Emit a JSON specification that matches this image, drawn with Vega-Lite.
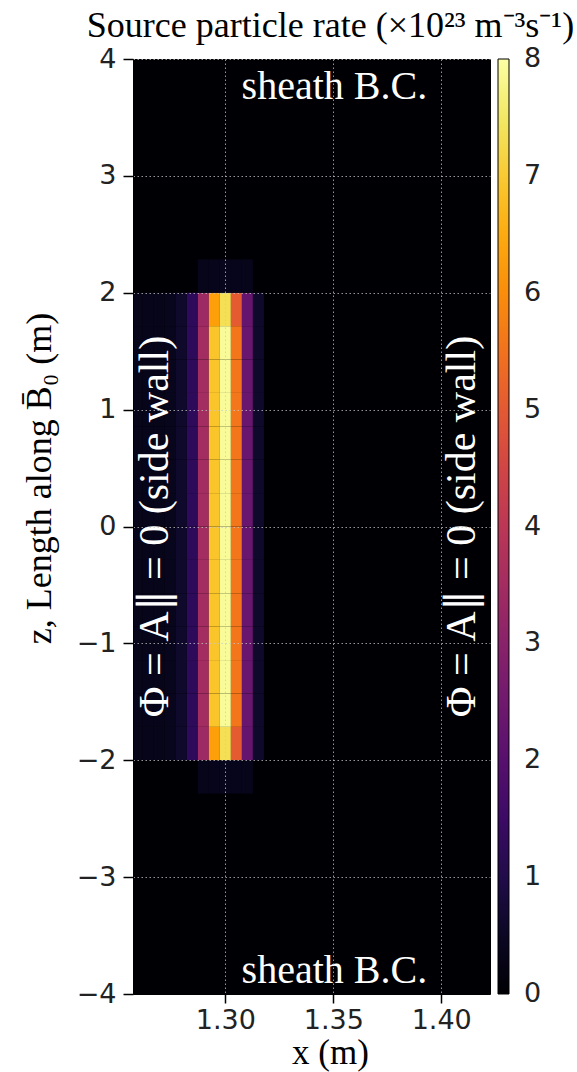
{
  "$schema": "https://vega.github.io/schema/vega-lite/v6.json",
  "width": 357,
  "height": 935,
  "autosize": "none",
  "padding": {"left": 133, "top": 59, "right": 87, "bottom": 78},
  "background": "white",
  "config": {
    "view": {"stroke": "black", "strokeWidth": 1, "fill": "#000004"}
  },
  "resolve": {"axis": {"x": "independent"}},
  "datasets": {
    "cells": [
      {"x0":1.25665,"x1":1.26175,"z0":-2,"z1":-1.7143,"v":0.35},
      {"x0":1.25665,"x1":1.26175,"z0":-1.7143,"z1":-1.4286,"v":0.35},
      {"x0":1.25665,"x1":1.26175,"z0":-1.4286,"z1":-1.1429,"v":0.35},
      {"x0":1.25665,"x1":1.26175,"z0":-1.1429,"z1":-0.8571,"v":0.35},
      {"x0":1.25665,"x1":1.26175,"z0":-0.8571,"z1":-0.5714,"v":0.35},
      {"x0":1.25665,"x1":1.26175,"z0":-0.5714,"z1":-0.2857,"v":0.35},
      {"x0":1.25665,"x1":1.26175,"z0":-0.2857,"z1":0,"v":0.35},
      {"x0":1.25665,"x1":1.26175,"z0":0,"z1":0.2857,"v":0.35},
      {"x0":1.25665,"x1":1.26175,"z0":0.2857,"z1":0.5714,"v":0.35},
      {"x0":1.25665,"x1":1.26175,"z0":0.5714,"z1":0.8571,"v":0.35},
      {"x0":1.25665,"x1":1.26175,"z0":0.8571,"z1":1.1429,"v":0.35},
      {"x0":1.25665,"x1":1.26175,"z0":1.1429,"z1":1.4286,"v":0.35},
      {"x0":1.25665,"x1":1.26175,"z0":1.4286,"z1":1.7143,"v":0.35},
      {"x0":1.25665,"x1":1.26175,"z0":1.7143,"z1":2,"v":0.35},

      {"x0":1.26175,"x1":1.26685,"z0":-2,"z1":-1.7143,"v":0.35},
      {"x0":1.26175,"x1":1.26685,"z0":-1.7143,"z1":-1.4286,"v":0.35},
      {"x0":1.26175,"x1":1.26685,"z0":-1.4286,"z1":-1.1429,"v":0.35},
      {"x0":1.26175,"x1":1.26685,"z0":-1.1429,"z1":-0.8571,"v":0.35},
      {"x0":1.26175,"x1":1.26685,"z0":-0.8571,"z1":-0.5714,"v":0.35},
      {"x0":1.26175,"x1":1.26685,"z0":-0.5714,"z1":-0.2857,"v":0.35},
      {"x0":1.26175,"x1":1.26685,"z0":-0.2857,"z1":0,"v":0.35},
      {"x0":1.26175,"x1":1.26685,"z0":0,"z1":0.2857,"v":0.35},
      {"x0":1.26175,"x1":1.26685,"z0":0.2857,"z1":0.5714,"v":0.35},
      {"x0":1.26175,"x1":1.26685,"z0":0.5714,"z1":0.8571,"v":0.35},
      {"x0":1.26175,"x1":1.26685,"z0":0.8571,"z1":1.1429,"v":0.35},
      {"x0":1.26175,"x1":1.26685,"z0":1.1429,"z1":1.4286,"v":0.35},
      {"x0":1.26175,"x1":1.26685,"z0":1.4286,"z1":1.7143,"v":0.35},
      {"x0":1.26175,"x1":1.26685,"z0":1.7143,"z1":2,"v":0.35},

      {"x0":1.26685,"x1":1.27195,"z0":-2,"z1":-1.7143,"v":0.35},
      {"x0":1.26685,"x1":1.27195,"z0":-1.7143,"z1":-1.4286,"v":0.35},
      {"x0":1.26685,"x1":1.27195,"z0":-1.4286,"z1":-1.1429,"v":0.35},
      {"x0":1.26685,"x1":1.27195,"z0":-1.1429,"z1":-0.8571,"v":0.35},
      {"x0":1.26685,"x1":1.27195,"z0":-0.8571,"z1":-0.5714,"v":0.35},
      {"x0":1.26685,"x1":1.27195,"z0":-0.5714,"z1":-0.2857,"v":0.35},
      {"x0":1.26685,"x1":1.27195,"z0":-0.2857,"z1":0,"v":0.35},
      {"x0":1.26685,"x1":1.27195,"z0":0,"z1":0.2857,"v":0.35},
      {"x0":1.26685,"x1":1.27195,"z0":0.2857,"z1":0.5714,"v":0.35},
      {"x0":1.26685,"x1":1.27195,"z0":0.5714,"z1":0.8571,"v":0.35},
      {"x0":1.26685,"x1":1.27195,"z0":0.8571,"z1":1.1429,"v":0.35},
      {"x0":1.26685,"x1":1.27195,"z0":1.1429,"z1":1.4286,"v":0.35},
      {"x0":1.26685,"x1":1.27195,"z0":1.4286,"z1":1.7143,"v":0.35},
      {"x0":1.26685,"x1":1.27195,"z0":1.7143,"z1":2,"v":0.35},

      {"x0":1.27195,"x1":1.27705,"z0":-2,"z1":-1.7143,"v":0.4},
      {"x0":1.27195,"x1":1.27705,"z0":-1.7143,"z1":-1.4286,"v":0.4},
      {"x0":1.27195,"x1":1.27705,"z0":-1.4286,"z1":-1.1429,"v":0.4},
      {"x0":1.27195,"x1":1.27705,"z0":-1.1429,"z1":-0.8571,"v":0.4},
      {"x0":1.27195,"x1":1.27705,"z0":-0.8571,"z1":-0.5714,"v":0.4},
      {"x0":1.27195,"x1":1.27705,"z0":-0.5714,"z1":-0.2857,"v":0.4},
      {"x0":1.27195,"x1":1.27705,"z0":-0.2857,"z1":0,"v":0.4},
      {"x0":1.27195,"x1":1.27705,"z0":0,"z1":0.2857,"v":0.4},
      {"x0":1.27195,"x1":1.27705,"z0":0.2857,"z1":0.5714,"v":0.4},
      {"x0":1.27195,"x1":1.27705,"z0":0.5714,"z1":0.8571,"v":0.4},
      {"x0":1.27195,"x1":1.27705,"z0":0.8571,"z1":1.1429,"v":0.4},
      {"x0":1.27195,"x1":1.27705,"z0":1.1429,"z1":1.4286,"v":0.4},
      {"x0":1.27195,"x1":1.27705,"z0":1.4286,"z1":1.7143,"v":0.4},
      {"x0":1.27195,"x1":1.27705,"z0":1.7143,"z1":2,"v":0.4},

      {"x0":1.27705,"x1":1.28215,"z0":-2,"z1":-1.7143,"v":0.6},
      {"x0":1.27705,"x1":1.28215,"z0":-1.7143,"z1":-1.4286,"v":0.6},
      {"x0":1.27705,"x1":1.28215,"z0":-1.4286,"z1":-1.1429,"v":0.6},
      {"x0":1.27705,"x1":1.28215,"z0":-1.1429,"z1":-0.8571,"v":0.6},
      {"x0":1.27705,"x1":1.28215,"z0":-0.8571,"z1":-0.5714,"v":0.6},
      {"x0":1.27705,"x1":1.28215,"z0":-0.5714,"z1":-0.2857,"v":0.6},
      {"x0":1.27705,"x1":1.28215,"z0":-0.2857,"z1":0,"v":0.6},
      {"x0":1.27705,"x1":1.28215,"z0":0,"z1":0.2857,"v":0.6},
      {"x0":1.27705,"x1":1.28215,"z0":0.2857,"z1":0.5714,"v":0.6},
      {"x0":1.27705,"x1":1.28215,"z0":0.5714,"z1":0.8571,"v":0.6},
      {"x0":1.27705,"x1":1.28215,"z0":0.8571,"z1":1.1429,"v":0.6},
      {"x0":1.27705,"x1":1.28215,"z0":1.1429,"z1":1.4286,"v":0.6},
      {"x0":1.27705,"x1":1.28215,"z0":1.4286,"z1":1.7143,"v":0.6},
      {"x0":1.27705,"x1":1.28215,"z0":1.7143,"z1":2,"v":0.6},

      {"x0":1.28215,"x1":1.28725,"z0":-2,"z1":-1.7143,"v":1.25},
      {"x0":1.28215,"x1":1.28725,"z0":-1.7143,"z1":-1.4286,"v":1.25},
      {"x0":1.28215,"x1":1.28725,"z0":-1.4286,"z1":-1.1429,"v":1.25},
      {"x0":1.28215,"x1":1.28725,"z0":-1.1429,"z1":-0.8571,"v":1.25},
      {"x0":1.28215,"x1":1.28725,"z0":-0.8571,"z1":-0.5714,"v":1.25},
      {"x0":1.28215,"x1":1.28725,"z0":-0.5714,"z1":-0.2857,"v":1.25},
      {"x0":1.28215,"x1":1.28725,"z0":-0.2857,"z1":0,"v":1.25},
      {"x0":1.28215,"x1":1.28725,"z0":0,"z1":0.2857,"v":1.25},
      {"x0":1.28215,"x1":1.28725,"z0":0.2857,"z1":0.5714,"v":1.25},
      {"x0":1.28215,"x1":1.28725,"z0":0.5714,"z1":0.8571,"v":1.25},
      {"x0":1.28215,"x1":1.28725,"z0":0.8571,"z1":1.1429,"v":1.25},
      {"x0":1.28215,"x1":1.28725,"z0":1.1429,"z1":1.4286,"v":1.25},
      {"x0":1.28215,"x1":1.28725,"z0":1.4286,"z1":1.7143,"v":1.25},
      {"x0":1.28215,"x1":1.28725,"z0":1.7143,"z1":2,"v":1.25},

      {"x0":1.28725,"x1":1.29235,"z0":-2,"z1":-1.7143,"v":3.4},
      {"x0":1.28725,"x1":1.29235,"z0":-1.7143,"z1":-1.4286,"v":3.5},
      {"x0":1.28725,"x1":1.29235,"z0":-1.4286,"z1":-1.1429,"v":3.5},
      {"x0":1.28725,"x1":1.29235,"z0":-1.1429,"z1":-0.8571,"v":3.5},
      {"x0":1.28725,"x1":1.29235,"z0":-0.8571,"z1":-0.5714,"v":3.5},
      {"x0":1.28725,"x1":1.29235,"z0":-0.5714,"z1":-0.2857,"v":3.5},
      {"x0":1.28725,"x1":1.29235,"z0":-0.2857,"z1":0,"v":3.5},
      {"x0":1.28725,"x1":1.29235,"z0":0,"z1":0.2857,"v":3.5},
      {"x0":1.28725,"x1":1.29235,"z0":0.2857,"z1":0.5714,"v":3.5},
      {"x0":1.28725,"x1":1.29235,"z0":0.5714,"z1":0.8571,"v":3.5},
      {"x0":1.28725,"x1":1.29235,"z0":0.8571,"z1":1.1429,"v":3.5},
      {"x0":1.28725,"x1":1.29235,"z0":1.1429,"z1":1.4286,"v":3.5},
      {"x0":1.28725,"x1":1.29235,"z0":1.4286,"z1":1.7143,"v":3.5},
      {"x0":1.28725,"x1":1.29235,"z0":1.7143,"z1":2,"v":3.4},

      {"x0":1.29235,"x1":1.29745,"z0":-2,"z1":-1.7143,"v":6.3},
      {"x0":1.29235,"x1":1.29745,"z0":-1.7143,"z1":-1.4286,"v":6.9},
      {"x0":1.29235,"x1":1.29745,"z0":-1.4286,"z1":-1.1429,"v":6.9},
      {"x0":1.29235,"x1":1.29745,"z0":-1.1429,"z1":-0.8571,"v":6.9},
      {"x0":1.29235,"x1":1.29745,"z0":-0.8571,"z1":-0.5714,"v":6.9},
      {"x0":1.29235,"x1":1.29745,"z0":-0.5714,"z1":-0.2857,"v":6.9},
      {"x0":1.29235,"x1":1.29745,"z0":-0.2857,"z1":0,"v":6.9},
      {"x0":1.29235,"x1":1.29745,"z0":0,"z1":0.2857,"v":6.9},
      {"x0":1.29235,"x1":1.29745,"z0":0.2857,"z1":0.5714,"v":6.9},
      {"x0":1.29235,"x1":1.29745,"z0":0.5714,"z1":0.8571,"v":6.9},
      {"x0":1.29235,"x1":1.29745,"z0":0.8571,"z1":1.1429,"v":6.9},
      {"x0":1.29235,"x1":1.29745,"z0":1.1429,"z1":1.4286,"v":6.9},
      {"x0":1.29235,"x1":1.29745,"z0":1.4286,"z1":1.7143,"v":6.9},
      {"x0":1.29235,"x1":1.29745,"z0":1.7143,"z1":2,"v":6.3},

      {"x0":1.29745,"x1":1.30255,"z0":-2,"z1":-1.7143,"v":7.35},
      {"x0":1.29745,"x1":1.30255,"z0":-1.7143,"z1":-1.4286,"v":7.9},
      {"x0":1.29745,"x1":1.30255,"z0":-1.4286,"z1":-1.1429,"v":7.9},
      {"x0":1.29745,"x1":1.30255,"z0":-1.1429,"z1":-0.8571,"v":7.9},
      {"x0":1.29745,"x1":1.30255,"z0":-0.8571,"z1":-0.5714,"v":7.9},
      {"x0":1.29745,"x1":1.30255,"z0":-0.5714,"z1":-0.2857,"v":7.9},
      {"x0":1.29745,"x1":1.30255,"z0":-0.2857,"z1":0,"v":7.9},
      {"x0":1.29745,"x1":1.30255,"z0":0,"z1":0.2857,"v":7.9},
      {"x0":1.29745,"x1":1.30255,"z0":0.2857,"z1":0.5714,"v":7.9},
      {"x0":1.29745,"x1":1.30255,"z0":0.5714,"z1":0.8571,"v":7.9},
      {"x0":1.29745,"x1":1.30255,"z0":0.8571,"z1":1.1429,"v":7.9},
      {"x0":1.29745,"x1":1.30255,"z0":1.1429,"z1":1.4286,"v":7.9},
      {"x0":1.29745,"x1":1.30255,"z0":1.4286,"z1":1.7143,"v":7.9},
      {"x0":1.29745,"x1":1.30255,"z0":1.7143,"z1":2,"v":7.35},

      {"x0":1.30255,"x1":1.30765,"z0":-2,"z1":-1.7143,"v":5.05},
      {"x0":1.30255,"x1":1.30765,"z0":-1.7143,"z1":-1.4286,"v":5.6},
      {"x0":1.30255,"x1":1.30765,"z0":-1.4286,"z1":-1.1429,"v":5.6},
      {"x0":1.30255,"x1":1.30765,"z0":-1.1429,"z1":-0.8571,"v":5.6},
      {"x0":1.30255,"x1":1.30765,"z0":-0.8571,"z1":-0.5714,"v":5.6},
      {"x0":1.30255,"x1":1.30765,"z0":-0.5714,"z1":-0.2857,"v":5.6},
      {"x0":1.30255,"x1":1.30765,"z0":-0.2857,"z1":0,"v":5.6},
      {"x0":1.30255,"x1":1.30765,"z0":0,"z1":0.2857,"v":5.6},
      {"x0":1.30255,"x1":1.30765,"z0":0.2857,"z1":0.5714,"v":5.6},
      {"x0":1.30255,"x1":1.30765,"z0":0.5714,"z1":0.8571,"v":5.6},
      {"x0":1.30255,"x1":1.30765,"z0":0.8571,"z1":1.1429,"v":5.6},
      {"x0":1.30255,"x1":1.30765,"z0":1.1429,"z1":1.4286,"v":5.6},
      {"x0":1.30255,"x1":1.30765,"z0":1.4286,"z1":1.7143,"v":5.6},
      {"x0":1.30255,"x1":1.30765,"z0":1.7143,"z1":2,"v":5.05},

      {"x0":1.30765,"x1":1.31275,"z0":-2,"z1":-1.7143,"v":2.3},
      {"x0":1.30765,"x1":1.31275,"z0":-1.7143,"z1":-1.4286,"v":2.35},
      {"x0":1.30765,"x1":1.31275,"z0":-1.4286,"z1":-1.1429,"v":2.35},
      {"x0":1.30765,"x1":1.31275,"z0":-1.1429,"z1":-0.8571,"v":2.35},
      {"x0":1.30765,"x1":1.31275,"z0":-0.8571,"z1":-0.5714,"v":2.35},
      {"x0":1.30765,"x1":1.31275,"z0":-0.5714,"z1":-0.2857,"v":2.35},
      {"x0":1.30765,"x1":1.31275,"z0":-0.2857,"z1":0,"v":2.35},
      {"x0":1.30765,"x1":1.31275,"z0":0,"z1":0.2857,"v":2.35},
      {"x0":1.30765,"x1":1.31275,"z0":0.2857,"z1":0.5714,"v":2.35},
      {"x0":1.30765,"x1":1.31275,"z0":0.5714,"z1":0.8571,"v":2.35},
      {"x0":1.30765,"x1":1.31275,"z0":0.8571,"z1":1.1429,"v":2.35},
      {"x0":1.30765,"x1":1.31275,"z0":1.1429,"z1":1.4286,"v":2.35},
      {"x0":1.30765,"x1":1.31275,"z0":1.4286,"z1":1.7143,"v":2.35},
      {"x0":1.30765,"x1":1.31275,"z0":1.7143,"z1":2,"v":2.3},

      {"x0":1.31275,"x1":1.31785,"z0":-2,"z1":-1.7143,"v":0.6},
      {"x0":1.31275,"x1":1.31785,"z0":-1.7143,"z1":-1.4286,"v":0.6},
      {"x0":1.31275,"x1":1.31785,"z0":-1.4286,"z1":-1.1429,"v":0.6},
      {"x0":1.31275,"x1":1.31785,"z0":-1.1429,"z1":-0.8571,"v":0.6},
      {"x0":1.31275,"x1":1.31785,"z0":-0.8571,"z1":-0.5714,"v":0.6},
      {"x0":1.31275,"x1":1.31785,"z0":-0.5714,"z1":-0.2857,"v":0.6},
      {"x0":1.31275,"x1":1.31785,"z0":-0.2857,"z1":0,"v":0.6},
      {"x0":1.31275,"x1":1.31785,"z0":0,"z1":0.2857,"v":0.6},
      {"x0":1.31275,"x1":1.31785,"z0":0.2857,"z1":0.5714,"v":0.6},
      {"x0":1.31275,"x1":1.31785,"z0":0.5714,"z1":0.8571,"v":0.6},
      {"x0":1.31275,"x1":1.31785,"z0":0.8571,"z1":1.1429,"v":0.6},
      {"x0":1.31275,"x1":1.31785,"z0":1.1429,"z1":1.4286,"v":0.6},
      {"x0":1.31275,"x1":1.31785,"z0":1.4286,"z1":1.7143,"v":0.6},
      {"x0":1.31275,"x1":1.31785,"z0":1.7143,"z1":2,"v":0.6},

      {"x0":1.28725,"x1":1.29235,"z0":-2.2857,"z1":-2,"v":0.35},
      {"x0":1.29235,"x1":1.29745,"z0":-2.2857,"z1":-2,"v":0.38},
      {"x0":1.29745,"x1":1.30255,"z0":-2.2857,"z1":-2,"v":0.4},
      {"x0":1.30255,"x1":1.30765,"z0":-2.2857,"z1":-2,"v":0.38},
      {"x0":1.30765,"x1":1.31275,"z0":-2.2857,"z1":-2,"v":0.35},
      {"x0":1.28725,"x1":1.29235,"z0":2,"z1":2.2857,"v":0.35},
      {"x0":1.29235,"x1":1.29745,"z0":2,"z1":2.2857,"v":0.38},
      {"x0":1.29745,"x1":1.30255,"z0":2,"z1":2.2857,"v":0.4},
      {"x0":1.30255,"x1":1.30765,"z0":2,"z1":2.2857,"v":0.38},
      {"x0":1.30765,"x1":1.31275,"z0":2,"z1":2.2857,"v":0.35}
    ],
    "sheath": [
      {"t": "sheath B.C.", "x": 1.3505, "z": 3.66},
      {"t": "sheath B.C.", "x": 1.3505, "z": -3.902}
    ],
    "walls": [
      {"t": "Φ = A∥ = 0 (side wall)", "x": 1.2673, "z": 0.0},
      {"t": "Φ = A∥ = 0 (side wall)", "x": 1.4096, "z": 0.0}
    ]
  },
  "layer": [
    {
      "data": {"name": "cells"},
      "mark": {"type": "rect", "clip": true},
      "encoding": {
        "x": {
          "field": "x0", "type": "quantitative", "title": "x (m)",
          "scale": {"domain": [1.2572, 1.4226], "nice": false, "zero": false},
          "axis": {
            "values": [1.30, 1.35, 1.40], "format": ".2f",
            "labelFont": "DejaVu Sans", "labelFontSize": 27, "labelColor": "#222",
            "labelPadding": 4, "tickSize": 9, "tickWidth": 1.5, "tickColor": "black",
            "domainColor": "black", "zindex": 1,
            "grid": true, "gridColor": "#c8c8c8", "gridOpacity": 0.75, "gridDash": [1.5, 2.5], "gridWidth": 1,
            "titleFont": "Liberation Serif", "titleFontSize": 35, "titleFontWeight": "normal",
            "titleColor": "black", "titlePadding": 2, "titleX": 197
          }
        },
        "x2": {"field": "x1"},
        "y": {
          "field": "z0", "type": "quantitative", "title": "z, Length along B̄₀ (m)",
          "scale": {"domain": [-4, 4], "nice": false, "zero": false},
          "axis": {
            "values": [-4, -3, -2, -1, 0, 1, 2, 3, 4], "format": "d",
            "labelFont": "DejaVu Sans", "labelFontSize": 27, "labelColor": "#222",
            "labelPadding": 7, "tickSize": 10, "tickWidth": 1.5, "tickColor": "black",
            "domainColor": "black", "zindex": 1,
            "grid": true, "gridColor": "#c8c8c8", "gridOpacity": 0.75, "gridDash": [1.5, 2.5], "gridWidth": 1,
            "titleFont": "Liberation Serif", "titleFontSize": 36, "titleFontWeight": "normal",
            "titleColor": "black", "titlePadding": 18, "titleY": 419
          }
        },
        "y2": {"field": "z1"},
        "color": {
          "field": "v", "type": "quantitative",
          "scale": {"scheme": "inferno", "domain": [0, 8]},
          "legend": {
            "type": "gradient",
            "title": null, "orient": "right", "offset": 8, "padding": 0,
            "direction": "vertical", "format": "d",
            "gradientLength": 935, "gradientThickness": 11,
            "gradientStrokeColor": "black", "gradientStrokeWidth": 1,
            "values": [0, 1, 2, 3, 4, 5, 6, 7, 8],
            "labelFont": "DejaVu Sans", "labelFontSize": 27, "labelColor": "#222",
            "labelOffset": 15, "labelBaseline": "middle", "labelOverlap": false,
            "encode": {"labels": {"update": {"baseline": {"value": "middle"}}}}
          }
        }
      }
    },
    {
      "data": {"name": "sheath"},
      "mark": {"type": "text", "font": "Liberation Serif", "fontSize": 40, "color": "white", "align": "center", "baseline": "alphabetic"},
      "encoding": {
        "x": {
          "field": "x", "type": "quantitative", "title": "Source particle rate (×10²³ m⁻³s⁻¹)",
          "scale": {"domain": [1.2572, 1.4226], "nice": false, "zero": false},
          "axis": {
            "orient": "top", "labels": false, "ticks": false, "domain": false, "grid": false,
            "titleFont": "Liberation Serif", "titleFontSize": 36, "titleFontWeight": "normal",
            "titleColor": "black", "titleBaseline": "alphabetic", "titlePadding": 23, "titleX": 197
          }
        },
        "y": {"field": "z", "type": "quantitative", "title": "z, Length along B̄₀ (m)", "scale": {"domain": [-4, 4], "nice": false, "zero": false}},
        "text": {"field": "t"}
      }
    },
    {
      "data": {"name": "walls"},
      "mark": {"type": "text", "font": "Liberation Serif", "fontSize": 42, "color": "white", "align": "center", "baseline": "middle", "angle": 270},
      "encoding": {
        "x": {
          "field": "x", "type": "quantitative", "title": "x (m)",
          "scale": {"domain": [1.2572, 1.4226], "nice": false, "zero": false},
          "axis": null
        },
        "y": {"field": "z", "type": "quantitative", "title": "z, Length along B̄₀ (m)", "scale": {"domain": [-4, 4], "nice": false, "zero": false}},
        "text": {"field": "t"}
      }
    }
  ]
}
